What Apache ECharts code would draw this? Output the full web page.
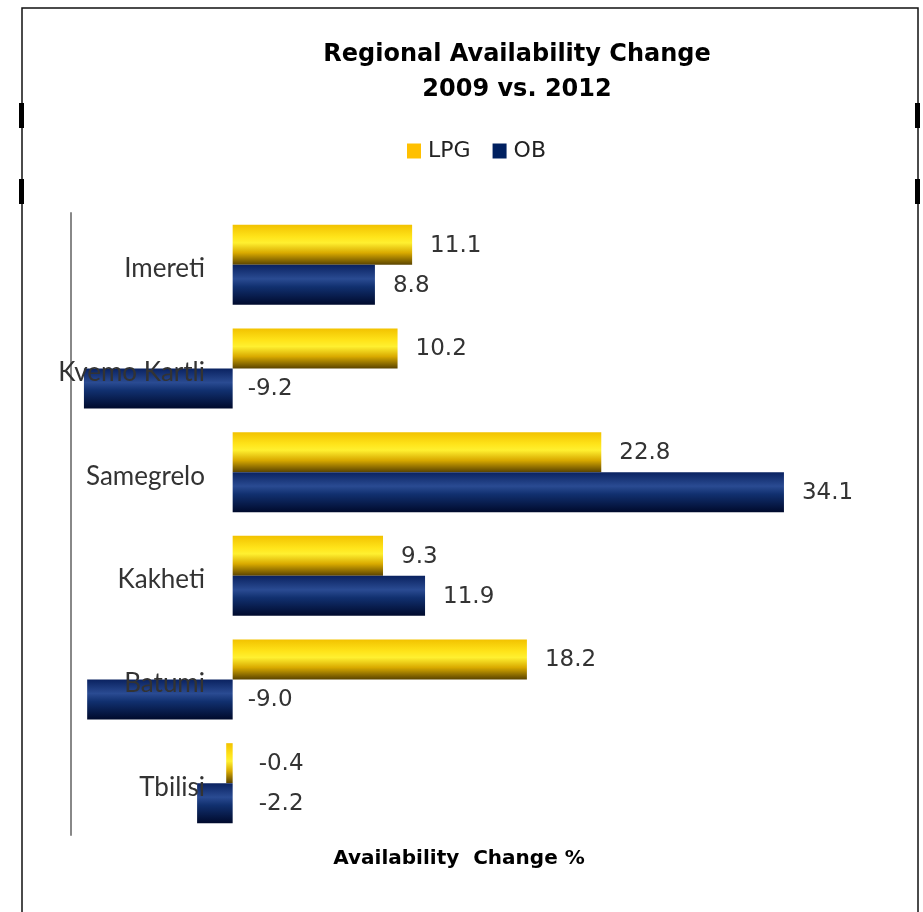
<!DOCTYPE html>
<html>
<head>
<meta charset="utf-8">
<script src="https://cdn.jsdelivr.net/npm/echarts@6/dist/echarts.min.js"></script>
<style>html,body{margin:0;padding:0;background:#fff}#c{width:923px;height:912px}</style>
</head>
<body>
<div id="c"></div>
<script>
const categories = ['Imereti', 'Kvemo Kartli', 'Samegrelo', 'Kakheti', 'Batumi', 'Tbilisi'];
const lpgValues = [11.1, 10.2, 22.8, 9.3, 18.2, -0.4];
const obValues = [8.8, -9.2, 34.1, 11.9, -9.0, -2.2];
const seriesNames = ['LPG', 'OB'];

const lpgGrad = new echarts.graphic.LinearGradient(0, 0, 0, 1, [
  {offset: 0, color: '#f2c200'},
  {offset: 0.3, color: '#ffe41a'},
  {offset: 0.45, color: '#fff030'},
  {offset: 0.7, color: '#d9aa00'},
  {offset: 1, color: '#5a4300'}
]);
const obGrad = new echarts.graphic.LinearGradient(0, 0, 0, 1, [
  {offset: 0, color: '#0a2260'},
  {offset: 0.35, color: '#2a4b92'},
  {offset: 0.55, color: '#11306f'},
  {offset: 1, color: '#000a2c'}
]);

function mkData(vals) {
  return vals.map(v => ({
    value: v,
    label: {position: 'right', distance: v < 0 ? (v > -5 ? 26 : 15) : 18}
  }));
}

const valueLabel = {show: true, formatter: p => p.value.toFixed(1), fontFamily: 'DejaVu Sans', fontSize: 23, color: '#333', offset: [0, 1]};

const chart = echarts.init(document.getElementById('c'));
chart.setOption({
  animation: false,
  title: {
    text: 'Regional Availability Change\n2009 vs. 2012',
    left: 512, textAlign: 'center', top: 32,
    textStyle: {fontFamily: 'DejaVu Sans', fontWeight: 'bold', fontSize: 24, lineHeight: 35, color: '#000'}
  },
  legend: {
    data: [{name: 'LPG', itemStyle: {color: '#ffc000'}}, {name: 'OB', itemStyle: {color: '#002060'}}],
    left: 402, top: 135,
    icon: 'rect', itemWidth: 14, itemHeight: 15, itemGap: 22,
    textStyle: {fontFamily: 'DejaVu Sans', fontSize: 22, color: '#222', padding: [2, 0, 0, 2]}
  },
  grid: {left: 71, top: 213, width: 776, height: 622},
  xAxis: {
    type: 'value', min: -10, max: 38,
    axisLine: {show: false}, axisTick: {show: false}, axisLabel: {show: false}, splitLine: {show: false},
    name: 'Availability  Change %', nameLocation: 'middle', nameGap: 14,
    nameTextStyle: {fontFamily: 'DejaVu Sans', fontWeight: 'bold', fontSize: 20, color: '#000'}
  },
  yAxis: {
    type: 'category', data: categories, inverse: true, z: 5,
    axisLine: {onZero: false, lineStyle: {color: '#888', width: 2}},
    axisTick: {show: false},
    axisLabel: {margin: -134, fontFamily: 'Lato', fontSize: 26, color: '#333',
      formatter: v => '{a|' + v + '}',
      rich: {a: {fontFamily: 'Lato', fontSize: 26, color: '#333', padding: [8, 0, 0, 0]}}}
  },
  series: [
    {name: 'LPG', type: 'bar', data: mkData(lpgValues), barWidth: 40, barGap: '0%',
     itemStyle: {color: lpgGrad}, z: 2, label: valueLabel},
    {name: 'OB', type: 'bar', data: mkData(obValues), barWidth: 40, barGap: '0%',
     itemStyle: {color: obGrad}, z: 2, label: valueLabel}
  ],
  graphic: [
    {type: 'rect', shape: {x: 22, y: 8, width: 896, height: 940}, style: {fill: 'none', stroke: '#111', lineWidth: 1.5}, silent: true},
    {type: 'rect', shape: {x: 19, y: 103, width: 5, height: 25}, style: {fill: '#000'}},
    {type: 'rect', shape: {x: 19, y: 179, width: 5, height: 25}, style: {fill: '#000'}},
    {type: 'rect', shape: {x: 915, y: 103, width: 5, height: 25}, style: {fill: '#000'}},
    {type: 'rect', shape: {x: 915, y: 179, width: 5, height: 25}, style: {fill: '#000'}}
  ]
});
</script>
</body>
</html>
